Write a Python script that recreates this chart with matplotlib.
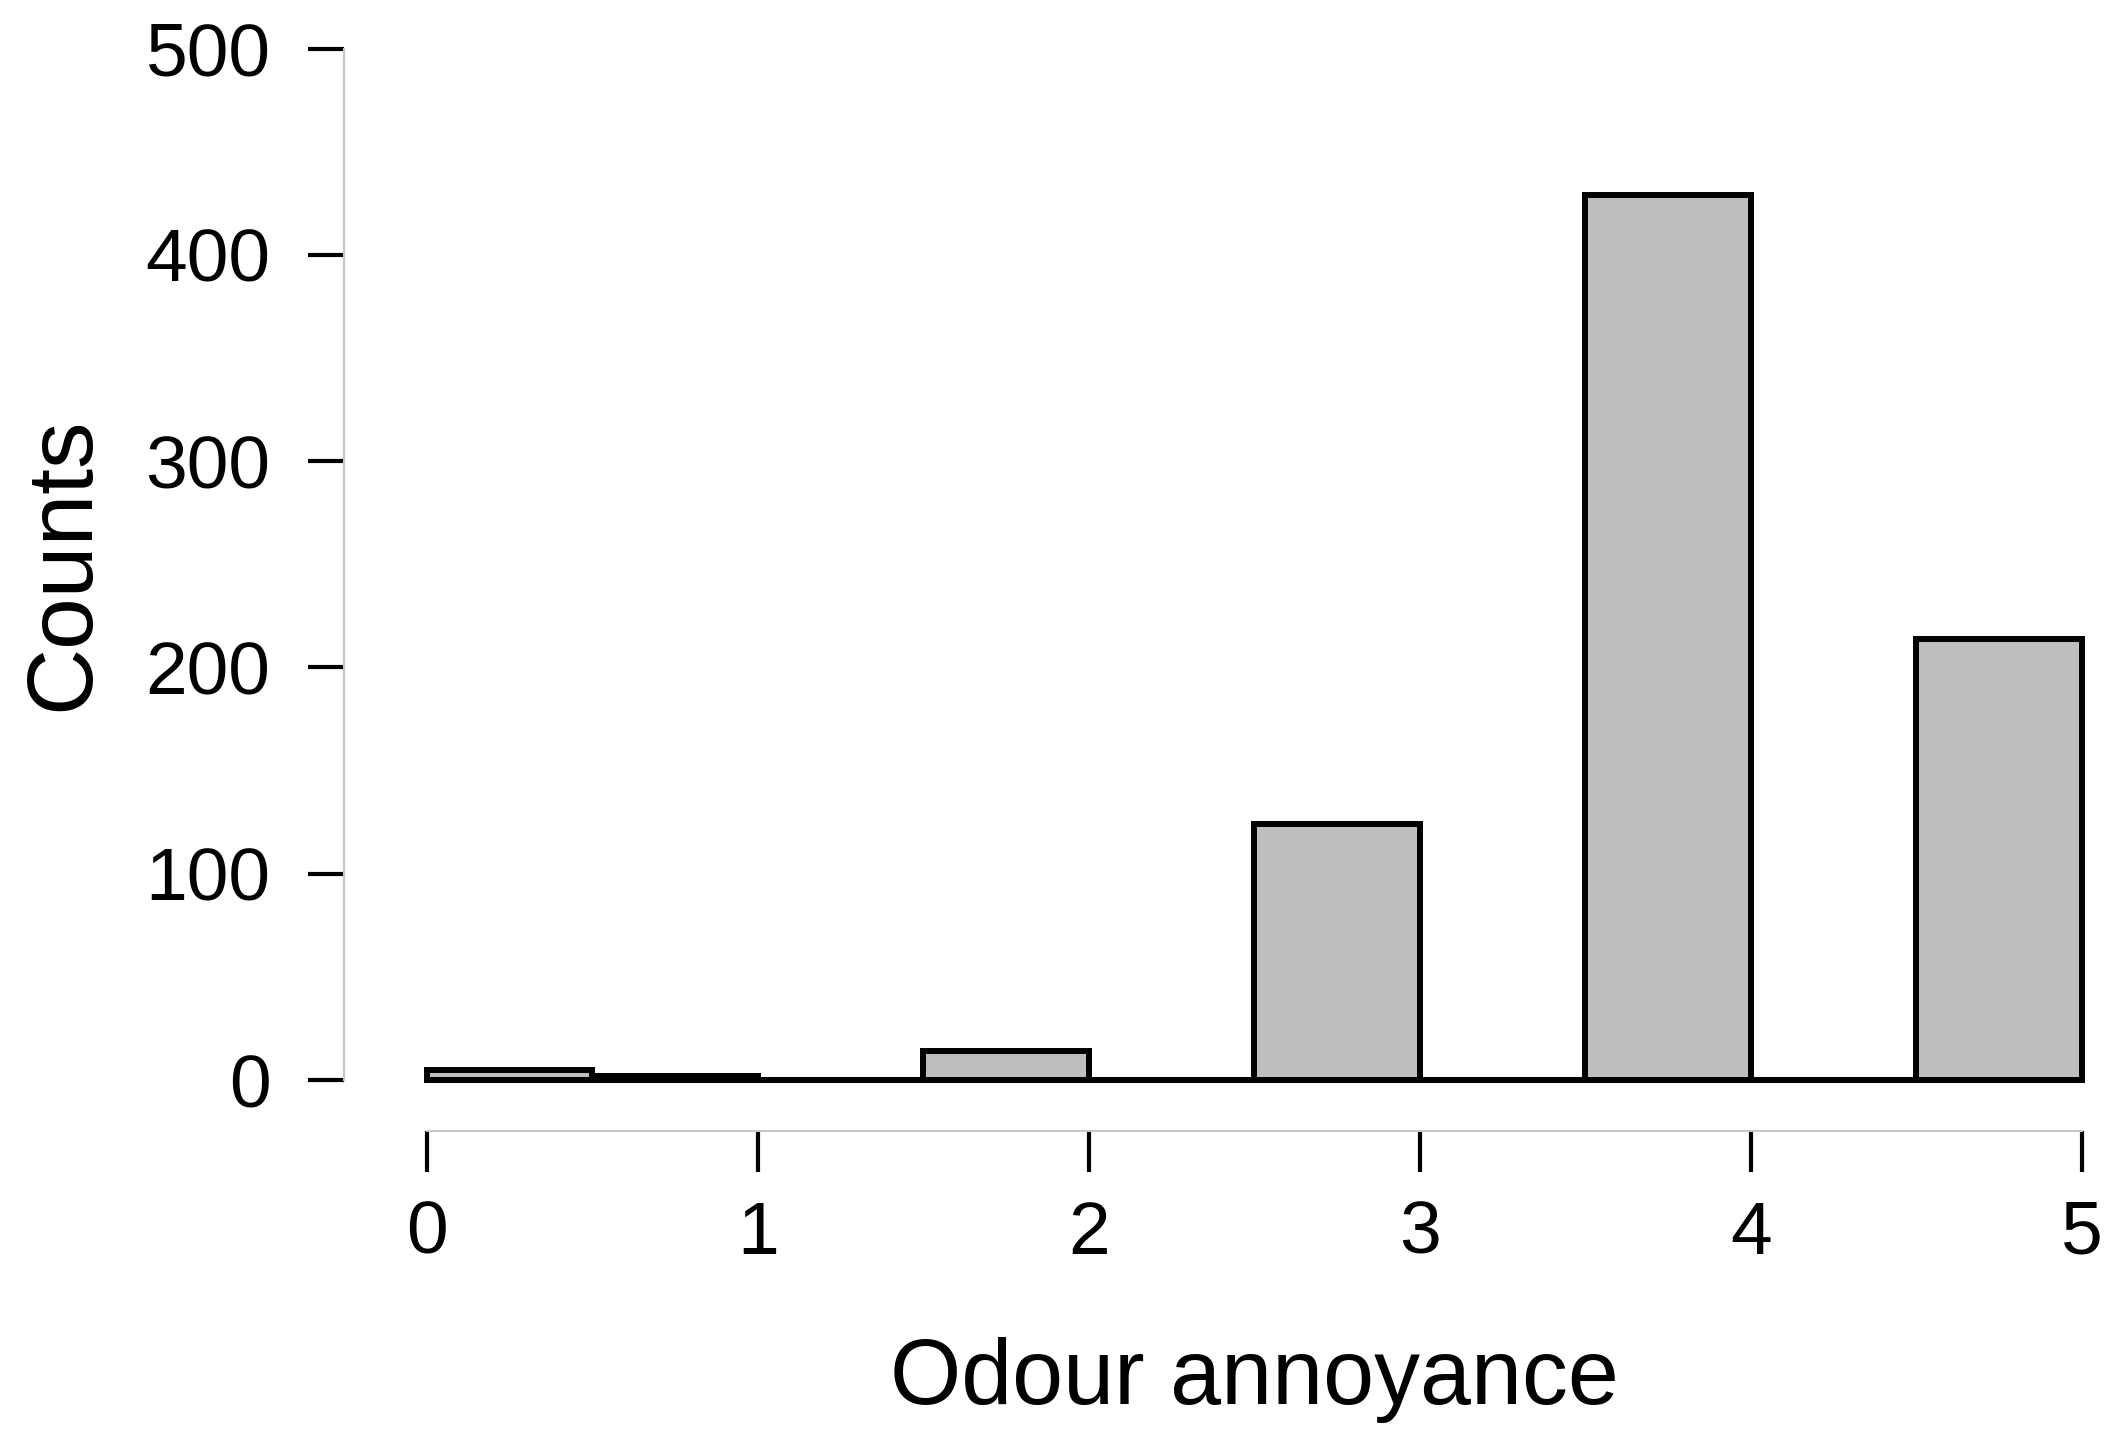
import matplotlib
matplotlib.use("Agg")
import matplotlib.pyplot as plt
import numpy as np

plt.rcParams['font.family'] = ['Liberation Sans', 'DejaVu Sans']

# Histogram bins (breaks at 0, 0.5, ..., 5) and counts
bin_edges = [0.0, 0.5, 1.0, 1.5, 2.0, 2.5, 3.0, 3.5, 4.0, 4.5, 5.0]
counts = [5, 2, 0, 14, 0, 124, 0, 429, 0, 214]
x_ticks = [0, 1, 2, 3, 4, 5]
y_ticks = [0, 100, 200, 300, 400, 500]
x_label = "Odour annoyance"
y_label = "Counts"

W, H = 2117, 1438
fig = plt.figure(figsize=(W / 100, H / 100), dpi=100)
ax = fig.add_axes([426.6 / W, 1 - 1080 / H, (2082 - 426.6) / W, (1080 - 48.6) / H])

lefts = np.array(bin_edges[:-1])
widths = np.diff(bin_edges)
ax.bar(lefts, counts, width=widths, align='edge', color='#bebebe',
       edgecolor='black', linewidth=4.3, clip_on=False, zorder=3)

ax.set_xlim(0, 5)
ax.set_ylim(0, 500)

for s in ['top', 'right']:
    ax.spines[s].set_visible(False)
pt = 72 / 100
ax.spines['left'].set_position(('outward', 82.6 * pt))
ax.spines['bottom'].set_position(('outward', 51 * pt))
ax.spines['left'].set_bounds(0, 500)
ax.spines['bottom'].set_bounds(0, 5)
for s in ['left', 'bottom']:
    ax.spines[s].set_color('#c8c8c8')
    ax.spines[s].set_linewidth(1.5)

ax.set_xticks(x_ticks)
ax.set_yticks(y_ticks)
ax.tick_params(axis='y', length=36 * pt, width=3.0, color='black', labelsize=54, pad=27)
ax.tick_params(axis='x', length=41 * pt, width=3.0, color='black', labelsize=54, pad=20)

fig.text(1254 / W, 1 - 1404 / H, x_label, ha='center', va='baseline', fontsize=66)
fig.text(88 / W, 1 - 564 / H, y_label, ha='center', va='baseline', rotation=90, fontsize=67,
         rotation_mode='anchor')

fig.savefig('out.png', dpi=100)
